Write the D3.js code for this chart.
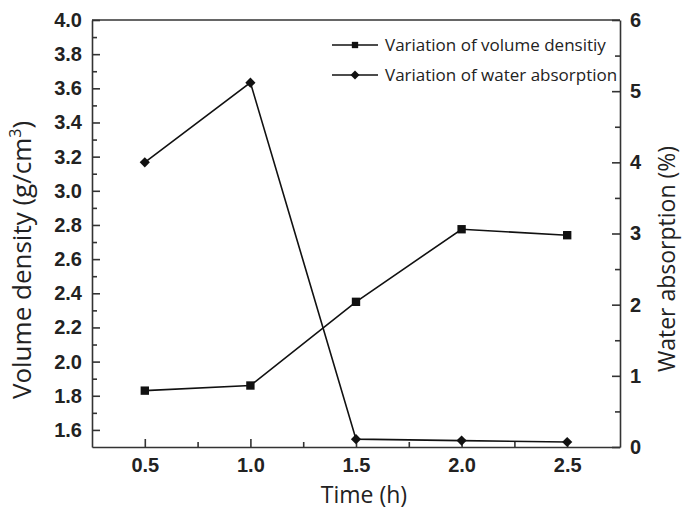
<!DOCTYPE html>
<html>
<head>
<meta charset="utf-8">
<script src="https://cdn.jsdelivr.net/npm/d3@7"></script>
<style>
  body { margin: 0; background: #fff; }
  .tick text { font-family: "Liberation Sans", Arial, sans-serif; font-weight: bold; font-size: 20px; fill: #222; }
  .axis path, .axis line { stroke: #333; stroke-width: 1.6px; }
  .axis-label { font-family: "Open Sans", "Noto Sans", sans-serif; fill: #222; }
  .legend text { font-family: "Liberation Sans Narrow", "Open Sans", sans-serif; font-size: 17px; fill: #222; }
</style>
</head>
<body>
<div id="vis"></div>
<script>
const times = [0.5, 1.0, 1.5, 2.0, 2.5];
const density = [1.83, 1.86, 2.35, 2.775, 2.74];
const absorption = [4.0, 5.12, 0.11, 0.09, 0.07];
const densityTicks = [1.6, 1.8, 2.0, 2.2, 2.4, 2.6, 2.8, 3.0, 3.2, 3.4, 3.6, 3.8, 4.0];
const absorptionTicks = [0, 1, 2, 3, 4, 5, 6];
const timeTicks = [0.5, 1.0, 1.5, 2.0, 2.5];

const margin = {top: 20, right: 64, bottom: 66, left: 92};
const width = 684 - margin.left - margin.right;
const height = 513 - margin.top - margin.bottom;

const svg = d3.select('#vis')
    .append('svg')
    .attr('width', 684)
    .attr('height', 513)
    .append('g')
    .attr('transform', `translate(${margin.left},${margin.top})`);

const xScale = d3.scaleLinear().domain([0.25, 2.75]).range([0, width]);
const yLeft = d3.scaleLinear().domain([1.5, 4.0]).range([height, 0]);
const yRight = d3.scaleLinear().domain([0, 6]).range([height, 0]);

// minor ticks first
svg.append('g')
    .attr('class', 'axis minor')
    .attr('transform', `translate(0,${height})`)
    .call(d3.axisBottom(xScale).tickValues([0.75, 1.25, 1.75, 2.25]).tickSize(-5).tickFormat(''))
    .call(g => g.select('.domain').remove());
svg.append('g')
    .attr('class', 'axis minor')
    .call(d3.axisLeft(yLeft).tickValues(d3.range(1.7, 4.0, 0.2)).tickSize(-5).tickFormat(''))
    .call(g => g.select('.domain').remove());
svg.append('g')
    .attr('class', 'axis minor')
    .attr('transform', `translate(${width},0)`)
    .call(d3.axisRight(yRight).tickValues(d3.range(0.5, 6, 1)).tickSize(-5).tickFormat(''))
    .call(g => g.select('.domain').remove());

svg.append('g')
    .attr('class', 'axis')
    .attr('transform', `translate(0,${height})`)
    .call(d3.axisBottom(xScale).tickValues(timeTicks).tickSize(-8).tickSizeOuter(0).tickPadding(11).tickFormat(d3.format('.1f')));

svg.append('g')
    .attr('class', 'axis')
    .call(d3.axisLeft(yLeft).tickValues(densityTicks).tickSize(-8).tickSizeOuter(0).tickPadding(10).tickFormat(d3.format('.1f')));

svg.append('g')
    .attr('class', 'axis')
    .attr('transform', `translate(${width},0)`)
    .call(d3.axisRight(yRight).tickValues(absorptionTicks).tickSize(-8).tickSizeOuter(0).tickPadding(10).tickFormat(d3.format('d')));

svg.append('line')
    .attr('x1', 0).attr('x2', width)
    .attr('y1', 0).attr('y2', 0)
    .style('stroke', '#333').style('stroke-width', 1.6);

const densityPts = times.map((t, i) => ({x: t, y: density[i]}));
const absorptionPts = times.map((t, i) => ({x: t, y: absorption[i]}));

svg.append('path')
    .datum(densityPts)
    .attr('d', d3.line().x(d => xScale(d.x)).y(d => yLeft(d.y)))
    .style('fill', 'none').style('stroke', '#111').style('stroke-width', 1.6);

svg.append('path')
    .datum(absorptionPts)
    .attr('d', d3.line().x(d => xScale(d.x)).y(d => yRight(d.y)))
    .style('fill', 'none').style('stroke', '#111').style('stroke-width', 1.6);

const square = d3.symbol().type(d3.symbolSquare).size(70);
const diamond = d3.symbol().type(d3.symbolSquare).size(52); // rotated 45deg below

svg.selectAll('.sq')
    .data(densityPts)
    .join('path')
    .attr('class', 'sq')
    .attr('transform', d => `translate(${xScale(d.x)},${yLeft(d.y)})`)
    .attr('d', square)
    .style('fill', '#111');

svg.selectAll('.dm')
    .data(absorptionPts)
    .join('path')
    .attr('class', 'dm')
    .attr('transform', d => `translate(${xScale(d.x)},${yRight(d.y)}) rotate(45)`)
    .attr('d', diamond)
    .style('fill', '#111');

// legend
const legendItems = [
    {label: 'Variation of volume densitiy', rot: 0, size: 40},
    {label: 'Variation of water absorption', rot: 45, size: 40}
];
const legend = svg.append('g')
    .attr('class', 'legend')
    .attr('transform', 'translate(240,25)');
legendItems.forEach((item, i) => {
    const row = legend.append('g').attr('transform', `translate(0,${i * 30})`);
    row.append('line')
        .attr('x1', 0).attr('x2', 46).attr('y1', 0).attr('y2', 0)
        .style('stroke', '#111').style('stroke-width', 1.6);
    row.append('path')
        .attr('transform', `translate(23,0) rotate(${item.rot})`)
        .attr('d', d3.symbol().type(d3.symbolSquare).size(item.size))
        .style('fill', '#111');
    row.append('text')
        .attr('x', 53)
        .attr('y', 6)
        .text(item.label);
});

svg.append('text')
    .attr('class', 'axis-label')
    .attr('x', width / 2 + 8)
    .attr('y', height + 56)
    .style('text-anchor', 'middle')
    .style('font-size', '23px')
    .text('Time (h)');

const leftLabel = svg.append('text')
    .attr('class', 'axis-label')
    .attr('transform', 'rotate(-90)')
    .attr('x', -(260 - margin.top))
    .attr('y', -margin.left + 31)
    .style('text-anchor', 'middle')
    .style('font-size', '26px');
leftLabel.append('tspan').text('Volume density (g/cm');
leftLabel.append('tspan').attr('dy', -10).style('font-size', '16px').text('3');
leftLabel.append('tspan').attr('dy', 10).text(')');

svg.append('text')
    .attr('class', 'axis-label')
    .attr('transform', 'rotate(-90)')
    .attr('x', -(259 - margin.top))
    .attr('y', width + 55)
    .style('text-anchor', 'middle')
    .style('font-size', '23px')
    .text('Water absorption (%)');
</script>
</body>
</html>
